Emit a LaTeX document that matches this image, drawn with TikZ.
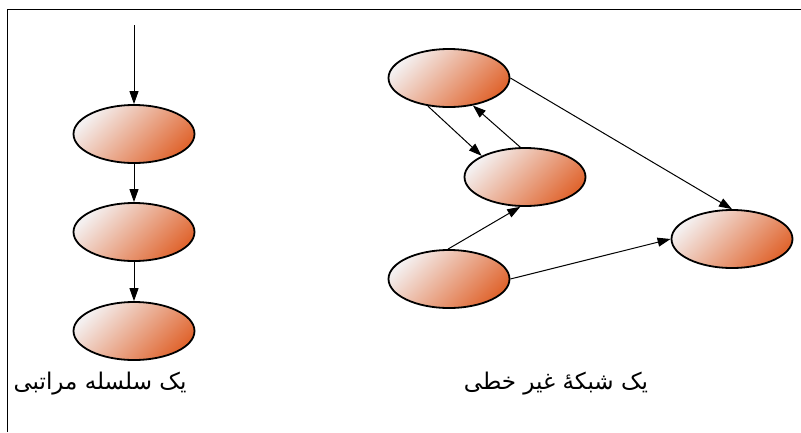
\documentclass[tikz,border=0pt]{standalone}
\usepackage{fontspec}
\TeXXeTstate=1
\newfontfamily\arabicfont[Script=Arabic]{DejaVu Sans}
\usetikzlibrary{shapes.geometric,arrows.meta}
\definecolor{lightend}{HTML}{F4F0F0}
\definecolor{darkend}{HTML}{E06630}
\tikzset{
  blob/.style={ellipse, draw=black, line width=1.8pt, minimum width=121pt, minimum height=58pt, inner sep=0pt,
    top color=lightend, bottom color=darkend, shading angle=45},
  conn/.style={line width=1pt, -{Triangle[length=13pt,width=9pt]}},
  lbl/.style={font=\arabicfont\fontsize{23}{28}\selectfont, inner sep=0pt}
}
\begin{document}
\begin{tikzpicture}[x=1pt,y=-1pt]
\useasboundingbox (0,0) rectangle (801,432);
\draw[line width=1pt] (7.5,432) -- (7.5,9.5) -- (801,9.5);
% left chain
\coordinate (top) at (134,25);
\node[blob] (L1) at (134,134) {};
\node[blob] (L2) at (134,232) {};
\node[blob] (L3) at (134,331) {};
\draw[conn] (top) -- (L1.north);
\draw[conn] (L1.south) -- (L2.north);
\draw[conn] (L2.south) -- (L3.north);
% network
\node[blob] (A) at (449,78) {};
\node[blob] (B) at (525,177) {};
\node[blob] (C) at (449,279) {};
\node[blob] (D) at (732,239) {};
\draw[conn] (A.-127) -- (B.154);
\draw[conn] (B.99) -- (A.-49);
\draw[conn] (C.92) -- (B.-99);
\draw[conn] (C.east) -- (D.west);
\draw[conn] (A.east) -- (D.north);
% labels
\node[lbl] (t1) at (100,384) {\beginR یک سلسله مراتبی\endR};
\node[lbl] (t2) at (556,384) {\beginR یک شبکهٔ غیر خطی\endR};
\end{tikzpicture}
\end{document}
